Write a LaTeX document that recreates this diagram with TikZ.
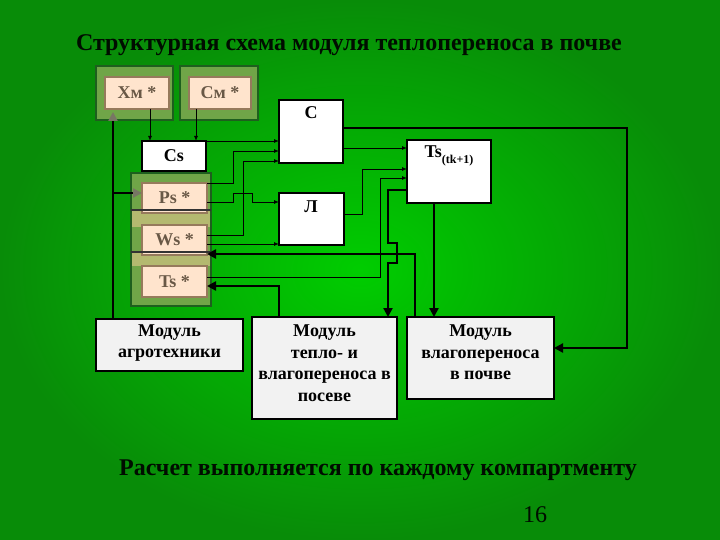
\documentclass[tikz,border=0pt]{standalone}
\usepackage{fontspec}
\setmainfont{Liberation Serif}
\usetikzlibrary{arrows.meta}
\definecolor{bgin}{RGB}{0,205,0}
\definecolor{bgout}{RGB}{8,140,8}
\definecolor{olivef}{RGB}{112,165,72}
\definecolor{olived}{RGB}{30,95,30}
\definecolor{tanf}{RGB}{180,185,112}
\definecolor{peachf}{RGB}{255,228,205}
\definecolor{peachd}{RGB}{150,122,92}
\definecolor{peacht}{RGB}{105,88,70}
\definecolor{modf}{RGB}{242,242,242}
\definecolor{tipgray}{RGB}{120,118,100}
\begin{document}
\begin{tikzpicture}[x=1pt,y=-1pt,line join=miter,
  olivebox/.style={draw=olived,line width=1.5pt,fill=olivef,inner sep=0pt,outer sep=0pt,anchor=north west},
  peachbox/.style={draw=peachd,line width=2pt,fill=peachf,text=peacht,inner sep=0pt,outer sep=0pt,anchor=north west,font=\bfseries\fontsize{18}{20}\selectfont},
  wbox/.style={draw=black,line width=1.6pt,fill=white,inner sep=0pt,outer sep=0pt,anchor=north west,font=\bfseries\fontsize{18}{20}\selectfont},
  mbox/.style={draw=black,line width=2pt,fill=modf,inner sep=0pt,outer sep=0pt,anchor=north west},
  lbl/.style={font=\bfseries\fontsize{18}{21.5}\selectfont,align=center,inner sep=0pt},
  thinc/.style={draw=black,line width=0.9pt,-{Latex[length=5pt,width=4pt]}},
  thickc/.style={draw=black,line width=2.6pt,-{Triangle[length=9pt,width=9pt]}},
  thickg/.style={draw=black,line width=2.6pt,-{Triangle[length=9pt,width=9pt,color=tipgray]}}
]
\useasboundingbox (0,0) rectangle (720,540);
\shade[inner color=bgin,outer color=bgout] (0,0) rectangle (720,540);

% title and footer
\node[font=\bfseries\fontsize{24}{26}\selectfont,inner sep=0pt,text=black!95!green] (title) at (349,45) {Структурная схема модуля теплопереноса в почве};
\node[font=\bfseries\fontsize{24}{26}\selectfont,inner sep=0pt,text=black!95!green] (foot) at (378,470) {Расчет выполняется по каждому компартменту};
\node[font=\fontsize{24}{26}\selectfont,inner sep=0pt,text=black!95!green] (page) at (535,515) {16};

% top input boxes
\node[olivebox,minimum width=77pt,minimum height=54pt] (XmO) at (96,66) {};
\node[peachbox,minimum width=64pt,minimum height=32pt] (Xm) at (105,77) {Хм *};
\node[olivebox,minimum width=78pt,minimum height=54pt] (CmO) at (180,66) {};
\node[peachbox,minimum width=62pt,minimum height=32pt] (Cm) at (189,77) {См *};

\node[wbox,minimum width=64pt,minimum height=30pt] (Cs) at (142,141) {Cs};

% column Ps / Ws / Ts
\node[olivebox,minimum width=80pt,minimum height=133pt] (col) at (131,173) {};
\fill[tanf] (132,211) rectangle (210,227);
\fill[tanf] (132,253) rectangle (210,266);
\node[peachbox,minimum width=65pt,minimum height=30pt] (Ps) at (142,183) {Ps *};
\node[peachbox,minimum width=65pt,minimum height=30pt] (Ws) at (142,225) {Ws *};
\node[peachbox,minimum width=65pt,minimum height=31pt] (Ts) at (142,266) {Ts *};

% process boxes
\node[wbox,minimum width=64pt,minimum height=63pt] (C) at (279,100) {};
\node[lbl] (Ct) at (311,113) {С};
\node[wbox,minimum width=65pt,minimum height=52pt] (L) at (279,193) {};
\node[lbl] (Lt) at (311,207) {Л};
\node[wbox,minimum width=84pt,minimum height=63pt] (T1) at (407,140) {};
\node[lbl] (T1t) at (449,156) {Ts\raisebox{-6pt}{\fontsize{12}{12}\selectfont(tk+1)}};

% modules
\node[mbox,minimum width=147pt,minimum height=52pt] (M1) at (96,319) {};
\node[lbl] (M1t) at (169.5,343) {Модуль\\агротехники};
\node[mbox,minimum width=145pt,minimum height=102pt] (M2) at (252,317) {};
\node[lbl] (M2t) at (324.5,363) {Модуль\\тепло- и\\влагопереноса в\\посеве};
\node[mbox,minimum width=147pt,minimum height=82pt] (M3) at (407,317) {};
\node[lbl] (M3t) at (480.5,352.5) {Модуль\\влагопереноса\\в почве};

% helper coordinates
\coordinate (v113) at (113,0);
\coordinate (v150) at (150,0);
\coordinate (v196) at (196,0);
\coordinate (v233) at (233,0);
\coordinate (v243) at (243,0);
\coordinate (v252) at (252,0);
\coordinate (v279) at (279,0);
\coordinate (v362) at (362,0);
\coordinate (v380) at (380,0);
\coordinate (v388) at (388,0);
\coordinate (v397) at (397,0);
\coordinate (v415) at (415,0);
\coordinate (v434) at (434,0);
\coordinate (v627) at (627,0);
\coordinate (h112) at (0,112);
\coordinate (h128) at (0,128);
\coordinate (h148) at (0,148);
\coordinate (h151) at (0,151);
\coordinate (h161) at (0,161);
\coordinate (h169) at (0,169);
\coordinate (h178) at (0,178);
\coordinate (h183) at (0,183);
\coordinate (h190) at (0,190);
\coordinate (h193) at (0,193);
\coordinate (h202) at (0,202);
\coordinate (h214) at (0,214);
\coordinate (h235) at (0,235);
\coordinate (h243) at (0,243);
\coordinate (h244) at (0,244);
\coordinate (h254) at (0,254);
\coordinate (h263) at (0,263);
\coordinate (h277) at (0,277);
\coordinate (h286) at (0,286);
\coordinate (h348) at (0,348);

% separator lines across the column
\draw[line width=1.2pt,draw=black!80] (col.west |- 0,210) -- (col.east |- 0,210);
\draw[line width=1.2pt,draw=black!80] (col.west |- 0,252) -- (col.east |- 0,252);

% thin connectors
\draw[thinc] (Xm.south -| v150) -- (Cs.north -| v150);
\draw[thinc] (Cm.south -| v196) -- (Cs.north -| v196);
\draw[thinc] (Cs.north east) -- (C.west |- Cs.north east);
\draw[thinc] (Ps.east |- h183) -- (v233 |- h183) -- (v233 |- h151) -- (C.west |- h151);
\draw[thinc] (Ws.east |- h235) -- (v243 |- h235) -- (v243 |- h161) -- (C.west |- h161);
\draw[thinc] (Ps.east |- h202) -- (v233 |- h202) -- (v233 |- h193) -- (v252 |- h193) -- (v252 |- h202) -- (L.west |- h202);
\draw[thinc] (Ws.east |- h244) -- (L.west |- h244);
\draw[thinc] (C.east |- h148) -- (T1.west |- h148);
\draw[thinc] (L.east |- h214) -- (v362 |- h214) -- (v362 |- h169) -- (T1.west |- h169);
\draw[thinc] (Ts.east |- h277) -- (v380 |- h277) -- (v380 |- h178) -- (T1.west |- h178);

% thick connectors
\draw[thickg] (M1.north -| v113) -- (v113 |- h112);
\draw[thickg] (v113 |- h193) -- (Ps.west |- h193);
\draw[thickc] (M2.north -| v279) -- (v279 |- h286) -- (Ts.east |- h286);
\draw[thickc] (M3.north -| v415) -- (v415 |- h254) -- (Ws.east |- h254);
\draw[thickc] (T1.west |- h190) -- (v388 |- h190) -- (v388 |- h243) -- (v397 |- h243) -- (v397 |- h263) -- (v388 |- h263) -- (M2.north -| v388);
\draw[thickc] (T1.south -| v434) -- (M3.north -| v434);
\draw[thickc] (C.east |- h128) -- (v627 |- h128) -- (v627 |- h348) -- (M3.east |- h348);
\end{tikzpicture}
\end{document}
